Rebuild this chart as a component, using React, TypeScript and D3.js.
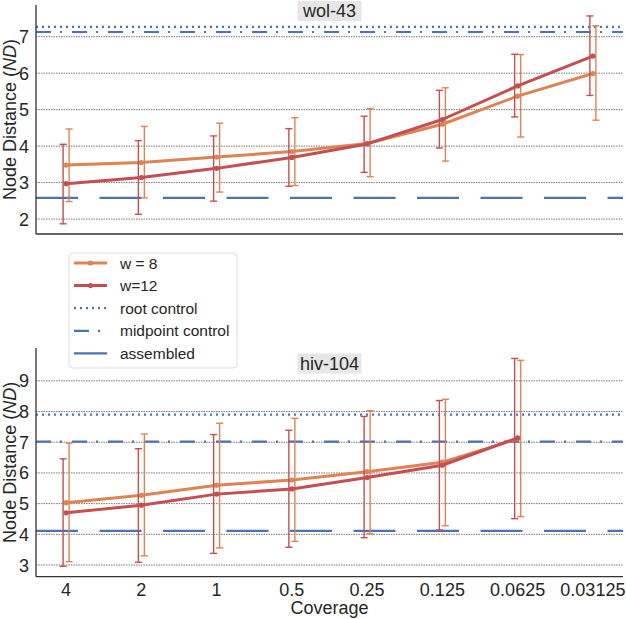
import React from "react";
import * as d3 from "d3";

const categories = ["4", "2", "1", "0.5", "0.25", "0.125", "0.0625", "0.03125"];

// wol-43
const wolW8Mean = [3.48, 3.55, 3.7, 3.85, 4.07, 4.6, 5.37, 5.99];
const wolW8Lo = [2.48, 2.58, 2.74, 2.92, 3.16, 3.59, 4.25, 4.71];
const wolW8Hi = [4.47, 4.54, 4.63, 4.78, 5.03, 5.6, 6.51, 7.3];
const wolW12Mean = [2.97, 3.14, 3.39, 3.69, 4.06, 4.73, 5.65, 6.47];
const wolW12Lo = [1.87, 2.13, 2.49, 2.9, 3.28, 3.95, 4.8, 5.39];
const wolW12Hi = [4.05, 4.15, 4.28, 4.48, 4.82, 5.53, 6.52, 7.57];
const wolRefs = { root: 7.27, midpoint: 7.13, assembled: 2.58 };
const wolTicks = [2, 3, 4, 5, 6, 7];

// hiv-104
const hivW8Mean = [5.03, 5.27, 5.6, 5.77, 6.04, 6.35, 7.11];
const hivW8Lo = [3.11, 3.3, 3.56, 3.77, 4.02, 4.28, 4.58];
const hivW8Hi = [6.97, 7.27, 7.62, 7.78, 8.03, 8.4, 9.67];
const hivW12Mean = [4.7, 4.95, 5.31, 5.48, 5.85, 6.25, 7.14];
const hivW12Lo = [2.96, 3.09, 3.38, 3.58, 3.89, 4.14, 4.51];
const hivW12Hi = [6.46, 6.79, 7.25, 7.39, 7.84, 8.36, 9.73];
const hivRefs = { root: 7.9, midpoint: 7.02, assembled: 4.11 };
const hivTicks = [3, 4, 5, 6, 7, 8, 9];

const ORANGE = "#dd8452";
const RED = "#c44e52";
const BLUE = "#4c72b0";
const TEXT = "#262626";
const FONT = "'Liberation Sans', Arial, sans-serif";

const LEFT = 36;
const RIGHT = 623;

const x = d3.scaleLinear().domain([-0.4, 7.4]).range([LEFT, RIGHT]);

type Series = { mean: number[]; lo: number[]; hi: number[]; color: string; off: number };

function Panel({
  top,
  bottom,
  domain,
  ticks,
  refs,
  series,
  title,
  titleY,
  showX,
}: {
  top: number;
  bottom: number;
  domain: [number, number];
  ticks: number[];
  refs: { root: number; midpoint: number; assembled: number };
  series: Series[];
  title: string;
  titleY: number;
  showX: boolean;
}) {
  const y = d3.scaleLinear().domain(domain).range([bottom, top]);
  const line = d3
    .line<number>()
    .x((_, i) => x(i))
    .y((d) => y(d));
  const cx = (LEFT + RIGHT) / 2;
  return (
    <g>
      {ticks.map((t) => (
        <g key={t}>
          <line x1={LEFT} x2={RIGHT} y1={y(t)} y2={y(t)} stroke="#777" strokeWidth={1} strokeDasharray="1.5,1" />
          <text x={29} y={y(t)} dy="0.36em" textAnchor="end" fontSize={18} fill={TEXT} fontFamily={FONT}>
            {t}
          </text>
        </g>
      ))}
      {/* reference lines */}
      <line x1={LEFT} x2={RIGHT} y1={y(refs.root)} y2={y(refs.root)} stroke={BLUE} strokeWidth={2.2} strokeDasharray="2,4" />
      <line x1={LEFT} x2={RIGHT} y1={y(refs.midpoint)} y2={y(refs.midpoint)} stroke={BLUE} strokeWidth={2.2} strokeDasharray="15,9,2,10" />
      <line x1={LEFT} x2={RIGHT} y1={y(refs.assembled)} y2={y(refs.assembled)} stroke={BLUE} strokeWidth={2.2} strokeDasharray="42,21.5" />
      {series.map((s, si) => (
        <g key={si}>
          {s.mean.map((_, i) => {
            const ex = x(i) + s.off;
            return (
              <g key={i}>
                <line x1={ex} x2={ex} y1={y(s.lo[i])} y2={y(s.hi[i])} stroke={s.color} strokeWidth={1.4} />
                <line x1={ex - 3.5} x2={ex + 3.5} y1={y(s.lo[i])} y2={y(s.lo[i])} stroke={s.color} strokeWidth={1.4} />
                <line x1={ex - 3.5} x2={ex + 3.5} y1={y(s.hi[i])} y2={y(s.hi[i])} stroke={s.color} strokeWidth={1.4} />
              </g>
            );
          })}
          <path d={line(s.mean) || ""} fill="none" stroke={s.color} strokeWidth={3} strokeLinejoin="round" />
          {s.mean.map((v, i) => (
            <circle key={i} cx={x(i)} cy={y(v)} r={2.6} fill={s.color} />
          ))}
        </g>
      ))}
      {/* spines */}
      <line x1={LEFT} x2={LEFT} y1={top} y2={bottom} stroke="#333" strokeWidth={1.3} />
      <line x1={LEFT} x2={RIGHT} y1={bottom} y2={bottom} stroke="#333" strokeWidth={1.3} />
      {/* title */}
      <rect x={cx - 32} y={titleY - 16} width={64} height={20} fill="#e6e6e6" />
      <text x={cx} y={titleY} textAnchor="middle" fontSize={18} fill={TEXT} fontFamily={FONT}>
        {title}
      </text>
      <text
        transform={`translate(16,${(top + bottom) / 2}) rotate(-90)`}
        textAnchor="middle"
        fontSize={18}
        fill={TEXT}
        fontFamily={FONT}
      >
        Node Distance (<tspan fontStyle="italic">ND</tspan>)
      </text>
      {showX &&
        categories.map((c, i) => (
          <text key={c} x={x(i)} y={bottom + 19} textAnchor="middle" fontSize={18} fill={TEXT} fontFamily={FONT}>
            {c}
          </text>
        ))}
    </g>
  );
}

export default function App() {
  const legendItems = [
    { label: "w = 8", color: ORANGE, dash: undefined as string | undefined, w: 3, dot: true },
    { label: "w=12", color: RED, dash: undefined, w: 3, dot: true },
    { label: "root control", color: BLUE, dash: "2,4", w: 2.2, dot: false },
    { label: "midpoint control", color: BLUE, dash: "15,9,2,10", w: 2.2, dot: false },
    { label: "assembled", color: BLUE, dash: undefined, w: 2.2, dot: false },
  ];
  return (
    <svg width={626} height={619} style={{ position: "absolute", left: 0, top: 0, background: "#fff" }}>
      <rect width={626} height={619} fill="#fff" />
      <Panel
        top={5}
        bottom={234}
        domain={[1.59, 7.87]}
        ticks={wolTicks}
        refs={wolRefs}
        series={[
          { mean: wolW8Mean, lo: wolW8Lo, hi: wolW8Hi, color: ORANGE, off: 3 },
          { mean: wolW12Mean, lo: wolW12Lo, hi: wolW12Hi, color: RED, off: -3 },
        ]}
        title="wol-43"
        titleY={17}
        showX={false}
      />
      <Panel
        top={348}
        bottom={576.7}
        domain={[2.62, 10.07]}
        ticks={hivTicks}
        refs={hivRefs}
        series={[
          { mean: hivW8Mean, lo: hivW8Lo, hi: hivW8Hi, color: ORANGE, off: 3 },
          { mean: hivW12Mean, lo: hivW12Lo, hi: hivW12Hi, color: RED, off: -3 },
        ]}
        title="hiv-104"
        titleY={369.5}
        showX={true}
      />
      <text x={(LEFT + RIGHT) / 2} y={614} textAnchor="middle" fontSize={18} fill={TEXT} fontFamily={FONT}>
        Coverage
      </text>
      {/* legend */}
      <g>
        <rect x={69} y={253} width={168} height={115} rx={4} fill="#fff" fillOpacity={0.9} stroke="#dcdcdc" strokeWidth={1} />
        {legendItems.map((it, i) => {
          const ly = 263 + i * 22.6;
          return (
            <g key={it.label}>
              <line x1={74} x2={107} y1={ly} y2={ly} stroke={it.color} strokeWidth={it.w} strokeDasharray={it.dash} />
              {it.dot && <circle cx={90.5} cy={ly} r={2.6} fill={it.color} />}
              <text x={120} y={ly} dy="0.36em" fontSize={15.5} fill={TEXT} fontFamily={FONT}>
                {it.label}
              </text>
            </g>
          );
        })}
      </g>
    </svg>
  );
}
